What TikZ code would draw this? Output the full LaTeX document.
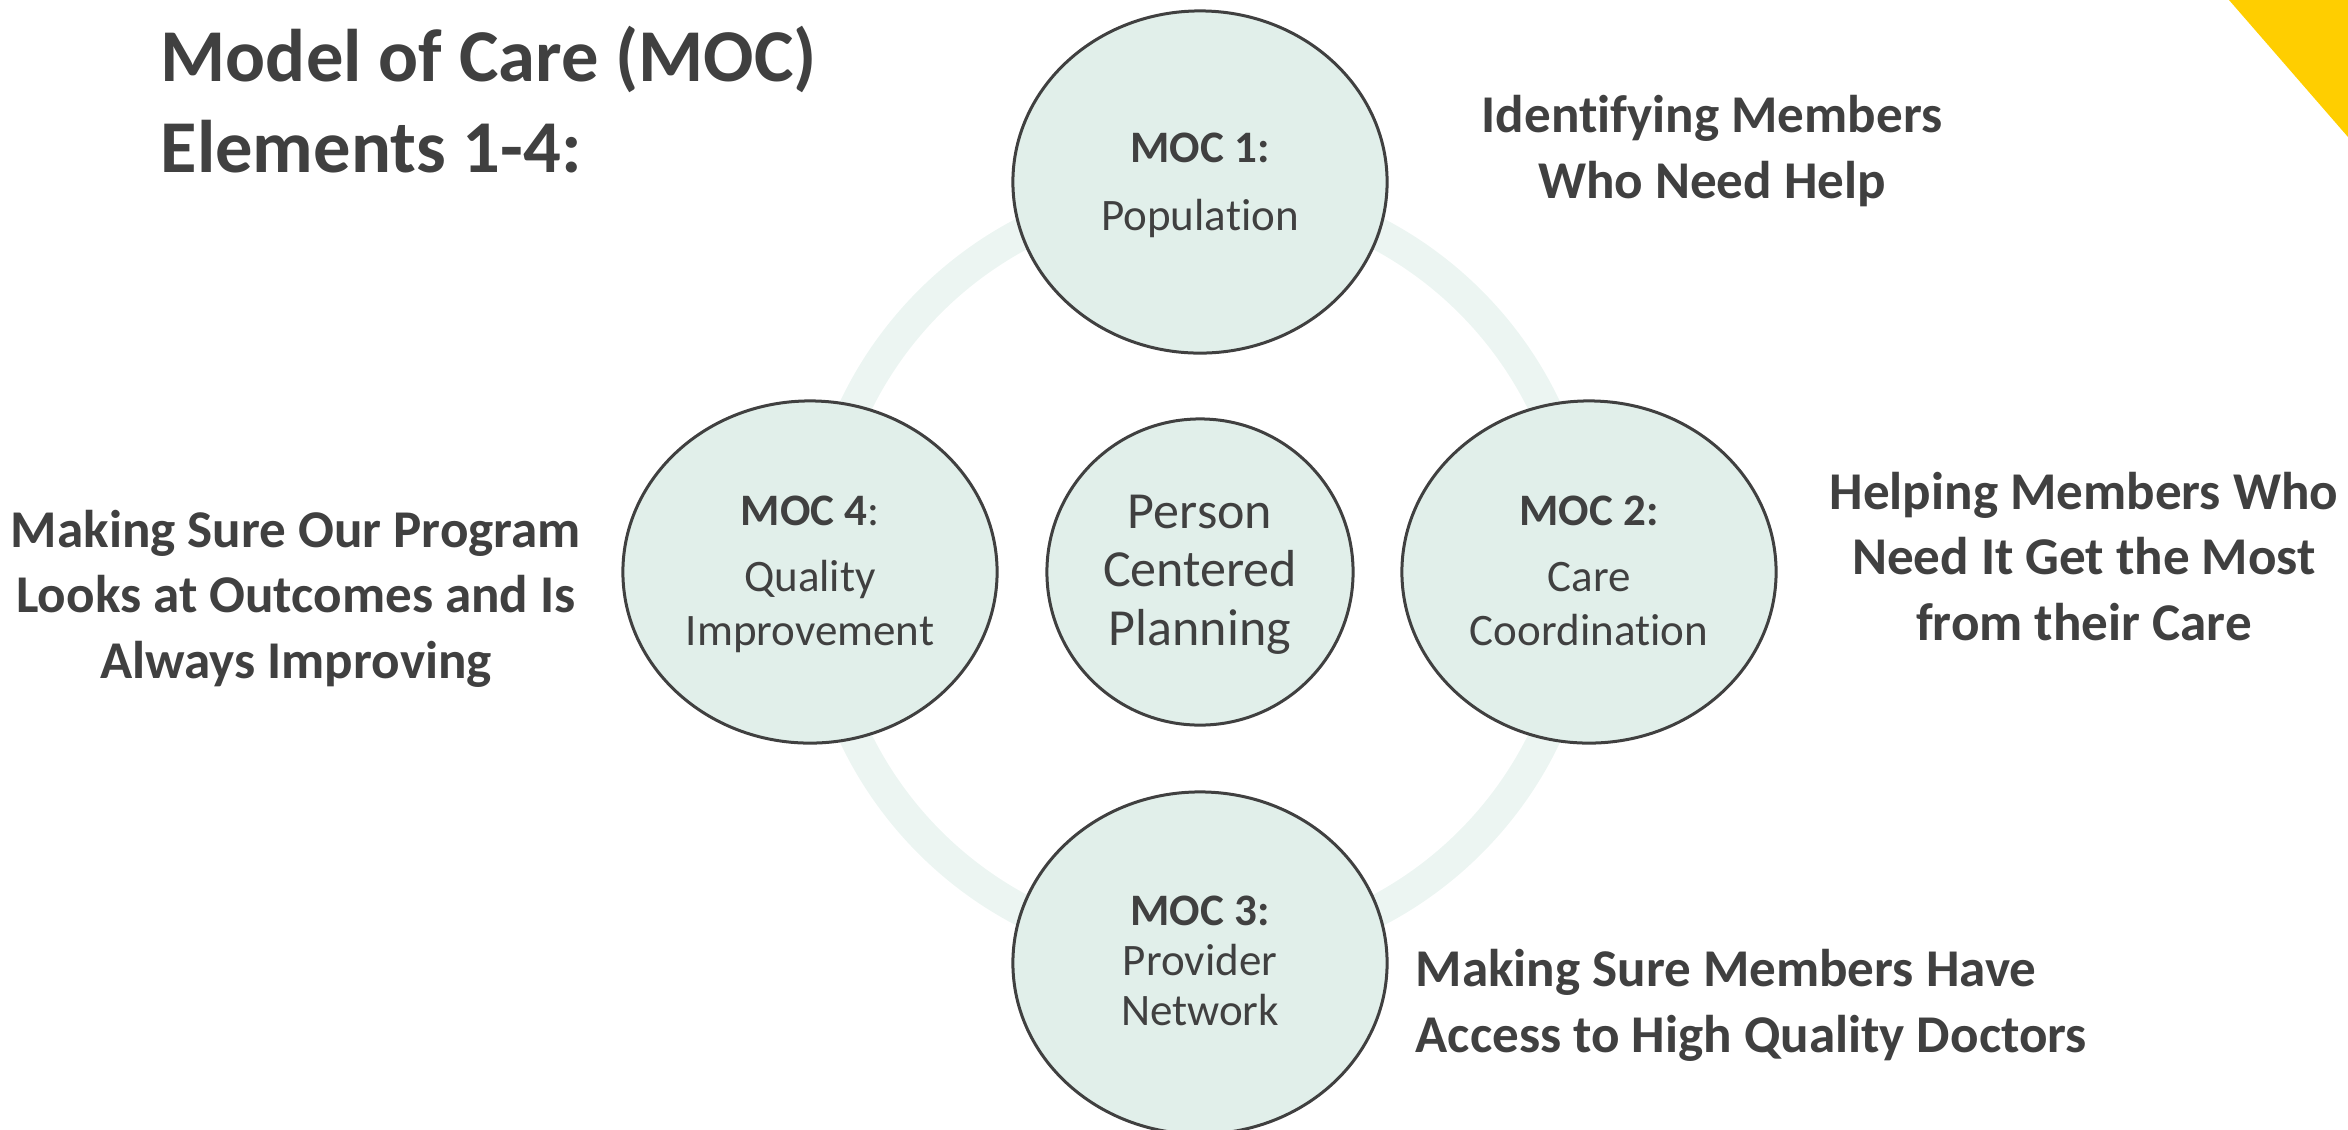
\documentclass[tikz,border=0pt]{standalone}
\usepackage{fontspec}
\setmainfont{Carlito}[Ligatures=CommonOff]
\usepackage{xcolor}
\usetikzlibrary{positioning,calc}
\usetikzlibrary{shapes.geometric}
\definecolor{mocgray}{HTML}{404040}
\definecolor{mocmint}{HTML}{E1EFEA}
\definecolor{mocring}{HTML}{ECF5F2}
\definecolor{mocyellow}{HTML}{FFCE00}
\tikzstyle{moc} = [ellipse, draw=mocgray, fill=mocmint, line width=0.03cm, minimum width=3.74cm, minimum height=3.42cm, inner sep=0pt]
\tikzstyle{core} = [circle, draw=mocgray, fill=mocmint, line width=0.03cm, minimum size=3.06cm, inner sep=0pt]
\tikzstyle{head} = [anchor=base, inner sep=0pt, text=mocgray, font=\fontsize{12.8}{15}\selectfont\bfseries]
\tikzstyle{body} = [anchor=base, inner sep=0pt, text=mocgray, align=center, font=\fontsize{12.8}{15.1}\selectfont]
\tikzstyle{note} = [anchor=base, inner sep=0pt, text=mocgray, align=center, font=\fontsize{15.1}{18.5}\selectfont\bfseries]

\begin{document}
\begin{tikzpicture}[x=0.01cm, y=-0.01cm]
\useasboundingbox (0,0) rectangle (2348,1129);
\fill[mocyellow] (2229,0) -- (2348,0) -- (2348,137) -- cycle; % corner
\coordinate (hub) at (1200,572);
\draw[mocring, line width=0.32cm] (hub) circle[radius=3.82cm];
\node[moc] (m1) at (1200,182) {};
\node[moc] (m2) at (1589,572) {};
\node[moc] (m3) at (1200,963) {};
\node[moc] (m4) at (810,572) {};
\node[core] (pcp) at (hub) {};
% base = last line
\node[head] (m1h) at ($(m1)+(0,-20)$) {MOC 1:};
\node[body] (m1b) at ($(m1)+(0,48)$) {Population};
\node[head] (m2h) at ($(m2)+(0,-47)$) {MOC 2:};
\node[body] (m2b) at ($(m2)+(0,73)$) {Care\\Coordination};
\node[head] (m3h) at ($(m3)+(0,-38)$) {MOC 3:};
\node[body] (m3b) at ($(m3)+(0,62)$) {Provider\\[-0.9pt]Network};
\node[head] (m4h) at ($(m4)+(0,-47)$) {MOC 4\mdseries:};
\node[body] (m4b) at ($(m4)+(0,73)$) {Quality\\Improvement};
\node[body, font=\fontsize{14.8}{16.6}\selectfont] (pcpt) at ($(pcp)+(0,73)$) {Person\\Centered\\Planning};
% side notes
\node[note, align=left, anchor=base west, font=\fontsize{21.2}{25.6}\selectfont\bfseries] (title) at (160,172) {Model of Care (MOC)\\Elements 1-4:};
\node[note] (n1) at (1712,198) {Identifying Members\\Who Need Help};
\node[note] (n2) at (2084,640) {Helping Members Who\\Need It Get the Most\\from their Care};
\node[note] (n4) at (296,678) {Making Sure Our Program\\Looks at Outcomes and Is\\Always Improving};
\node[note, align=left, anchor=base west] (n3) at (1415,1052) {Making Sure Members Have\\Access to High Quality Doctors};
\end{tikzpicture}
\end{document}
